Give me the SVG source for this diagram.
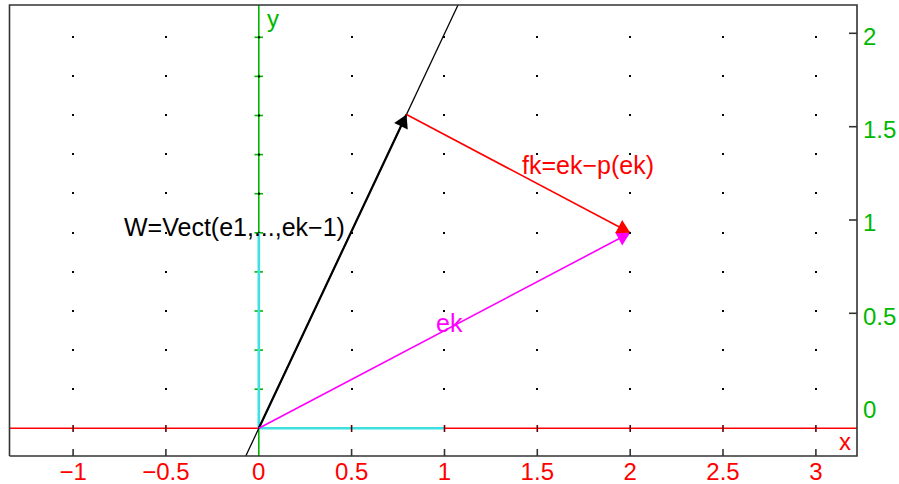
<svg xmlns="http://www.w3.org/2000/svg" width="899" height="484" viewBox="0 0 899 484">
<style>
text{font-family:"Liberation Sans",Arial,sans-serif;font-size:24px}
.lbl{font-size:25px}
.xl{fill:#ff0000;text-anchor:middle}
.yl{fill:#00b800}
.frame{fill:none;stroke:#333;stroke-width:1.6}
.ftick{stroke:#333;stroke-width:1.6}
.dot{fill:#000}
</style>
<defs>
<marker id="ahK" viewBox="-14 -8 15 16" refX="0" refY="0" markerWidth="15" markerHeight="16" markerUnits="userSpaceOnUse" orient="auto"><path d="M0,0 L-13,-7.5 L-13,7.5 Z" fill="#000"/></marker>
<marker id="ahR" viewBox="-14 -8 15 16" refX="0" refY="0" markerWidth="15" markerHeight="16" markerUnits="userSpaceOnUse" orient="auto"><path d="M0,0 L-13,-7.5 L-13,7.5 Z" fill="#ff0000"/></marker>
<marker id="ahM" viewBox="-14 -8 15 16" refX="0" refY="0" markerWidth="15" markerHeight="16" markerUnits="userSpaceOnUse" orient="auto"><path d="M0,0 L-13,-7.5 L-13,7.5 Z" fill="#ff00ff"/></marker>
</defs>

<g id="grid">
<g class="dot">
<rect x="72" y="36" width="2" height="2"/><rect x="165" y="36" width="2" height="2"/><rect x="351" y="36" width="2" height="2"/><rect x="443" y="36" width="2" height="2"/><rect x="536" y="36" width="2" height="2"/><rect x="629" y="36" width="2" height="2"/><rect x="722" y="36" width="2" height="2"/><rect x="815" y="36" width="2" height="2"/>
<rect x="72" y="75" width="2" height="2"/><rect x="165" y="75" width="2" height="2"/><rect x="351" y="75" width="2" height="2"/><rect x="443" y="75" width="2" height="2"/><rect x="536" y="75" width="2" height="2"/><rect x="629" y="75" width="2" height="2"/><rect x="722" y="75" width="2" height="2"/><rect x="815" y="75" width="2" height="2"/>
<rect x="72" y="114" width="2" height="2"/><rect x="165" y="114" width="2" height="2"/><rect x="351" y="114" width="2" height="2"/><rect x="443" y="114" width="2" height="2"/><rect x="536" y="114" width="2" height="2"/><rect x="629" y="114" width="2" height="2"/><rect x="722" y="114" width="2" height="2"/><rect x="815" y="114" width="2" height="2"/>
<rect x="72" y="153" width="2" height="2"/><rect x="165" y="153" width="2" height="2"/><rect x="351" y="153" width="2" height="2"/><rect x="443" y="153" width="2" height="2"/><rect x="536" y="153" width="2" height="2"/><rect x="629" y="153" width="2" height="2"/><rect x="722" y="153" width="2" height="2"/><rect x="815" y="153" width="2" height="2"/>
<rect x="72" y="192" width="2" height="2"/><rect x="165" y="192" width="2" height="2"/><rect x="351" y="192" width="2" height="2"/><rect x="443" y="192" width="2" height="2"/><rect x="536" y="192" width="2" height="2"/><rect x="629" y="192" width="2" height="2"/><rect x="722" y="192" width="2" height="2"/><rect x="815" y="192" width="2" height="2"/>
<rect x="72" y="232" width="2" height="2"/><rect x="165" y="232" width="2" height="2"/><rect x="351" y="232" width="2" height="2"/><rect x="443" y="232" width="2" height="2"/><rect x="536" y="232" width="2" height="2"/><rect x="722" y="232" width="2" height="2"/><rect x="815" y="232" width="2" height="2"/>
<rect x="72" y="271" width="2" height="2"/><rect x="165" y="271" width="2" height="2"/><rect x="351" y="271" width="2" height="2"/><rect x="443" y="271" width="2" height="2"/><rect x="536" y="271" width="2" height="2"/><rect x="629" y="271" width="2" height="2"/><rect x="722" y="271" width="2" height="2"/><rect x="815" y="271" width="2" height="2"/>
<rect x="72" y="310" width="2" height="2"/><rect x="165" y="310" width="2" height="2"/><rect x="351" y="310" width="2" height="2"/><rect x="443" y="310" width="2" height="2"/><rect x="536" y="310" width="2" height="2"/><rect x="629" y="310" width="2" height="2"/><rect x="722" y="310" width="2" height="2"/><rect x="815" y="310" width="2" height="2"/>
<rect x="72" y="349" width="2" height="2"/><rect x="165" y="349" width="2" height="2"/><rect x="351" y="349" width="2" height="2"/><rect x="443" y="349" width="2" height="2"/><rect x="536" y="349" width="2" height="2"/><rect x="629" y="349" width="2" height="2"/><rect x="722" y="349" width="2" height="2"/><rect x="815" y="349" width="2" height="2"/>
<rect x="72" y="388" width="2" height="2"/><rect x="165" y="388" width="2" height="2"/><rect x="351" y="388" width="2" height="2"/><rect x="443" y="388" width="2" height="2"/><rect x="536" y="388" width="2" height="2"/><rect x="629" y="388" width="2" height="2"/><rect x="722" y="388" width="2" height="2"/><rect x="815" y="388" width="2" height="2"/>
</g>
</g>

<g id="axes">
<line x1="9.5" y1="428.3" x2="857" y2="428.3" stroke="#ff0000" stroke-width="1.6"/>
<line x1="258.8" y1="5" x2="258.8" y2="456" stroke="#00b800" stroke-width="1.6"/>
<g stroke="#00b800" stroke-width="1.6">
<line x1="254.5" y1="37.3" x2="263" y2="37.3"/><line x1="254.5" y1="76.4" x2="263" y2="76.4"/><line x1="254.5" y1="115.5" x2="263" y2="115.5"/><line x1="254.5" y1="154.6" x2="263" y2="154.6"/><line x1="254.5" y1="193.7" x2="263" y2="193.7"/><line x1="254.5" y1="232.8" x2="263" y2="232.8"/><line x1="254.5" y1="271.9" x2="263" y2="271.9"/><line x1="254.5" y1="311" x2="263" y2="311"/><line x1="254.5" y1="350.1" x2="263" y2="350.1"/><line x1="254.5" y1="389.2" x2="263" y2="389.2"/>
</g>
<g class="dot">
<rect x="258" y="36.3" width="2" height="2"/><rect x="258" y="75.4" width="2" height="2"/><rect x="258" y="114.5" width="2" height="2"/><rect x="258" y="153.6" width="2" height="2"/><rect x="258" y="192.7" width="2" height="2"/><rect x="258" y="231.8" width="2" height="2"/><rect x="258" y="270.9" width="2" height="2"/><rect x="258" y="310" width="2" height="2"/><rect x="258" y="349.1" width="2" height="2"/><rect x="258" y="388.2" width="2" height="2"/>
</g>
<text class="yl" x="267" y="27">y</text>
<text x="839" y="450" fill="#ff0000">x</text>
</g>

<g id="basis-e">
<line x1="258.8" y1="428.3" x2="258.8" y2="232.8" stroke="#3fe0e0" stroke-width="2.6"/>
<line x1="258.8" y1="428.3" x2="444.5" y2="428.3" stroke="#3fe0e0" stroke-width="2.6"/>
</g>

<g id="xticks" stroke="#600" stroke-width="1.6">
<line x1="73.1" y1="425" x2="73.1" y2="432"/><line x1="165.9" y1="425" x2="165.9" y2="432"/><line x1="351.6" y1="425" x2="351.6" y2="432"/><line x1="444.5" y1="425" x2="444.5" y2="432"/><line x1="537.3" y1="425" x2="537.3" y2="432"/><line x1="630.2" y1="425" x2="630.2" y2="432"/><line x1="723" y1="425" x2="723" y2="432"/><line x1="815.9" y1="425" x2="815.9" y2="432"/>
</g>

<g id="line-W">
<line x1="245.8" y1="456" x2="458" y2="5" stroke="#000" stroke-width="1.3"/>
<text class="lbl" x="124" y="236" fill="#000">W=Vect(e1,...,ek−1)</text>
</g>

<g id="connectors">
<line x1="258.8" y1="428.3" x2="406.5" y2="114.5" stroke="#000" stroke-width="2.2" marker-end="url(#ahK)"/>
<line x1="258.8" y1="428.3" x2="630.2" y2="232.8" stroke="#ff00ff" stroke-width="1.6" marker-end="url(#ahM)"/>
<line x1="406.5" y1="114.5" x2="630.2" y2="232.8" stroke="#ff0000" stroke-width="1.6" marker-end="url(#ahR)"/>
<rect x="629" y="232" width="2" height="2" fill="#000"/>
</g>

<g id="label-fk"><text class="lbl" x="522" y="174" fill="#ff0000">fk=ek−p(ek)</text></g>
<g id="label-ek"><text class="lbl" x="436" y="332" fill="#ff00ff">ek</text></g>

<g id="frame">
<polyline class="frame" points="9.5,456 9.5,5 857,5 857,456 9.5,456"/>
<g class="ftick">
<line x1="73.1" y1="449" x2="73.1" y2="456"/><line x1="165.9" y1="449" x2="165.9" y2="456"/><line x1="351.6" y1="449" x2="351.6" y2="456"/><line x1="444.5" y1="449" x2="444.5" y2="456"/><line x1="537.3" y1="449" x2="537.3" y2="456"/><line x1="630.2" y1="449" x2="630.2" y2="456"/><line x1="723" y1="449" x2="723" y2="456"/><line x1="815.9" y1="449" x2="815.9" y2="456"/>
<line x1="849" y1="33.3" x2="857" y2="33.3"/><line x1="849" y1="126.7" x2="857" y2="126.7"/><line x1="849" y1="220" x2="857" y2="220"/><line x1="849" y1="313.3" x2="857" y2="313.3"/>
</g>
<text class="xl" x="73.1" y="480">−1</text>
<text class="xl" x="165.9" y="480">−0.5</text>
<text class="xl" x="258.8" y="480">0</text>
<text class="xl" x="351.6" y="480">0.5</text>
<text class="xl" x="444.5" y="480">1</text>
<text class="xl" x="537.3" y="480">1.5</text>
<text class="xl" x="630.2" y="480">2</text>
<text class="xl" x="723" y="480">2.5</text>
<text class="xl" x="815.9" y="480">3</text>
<text class="yl" x="863" y="45">2</text>
<text class="yl" x="863" y="138.3">1.5</text>
<text class="yl" x="863" y="230.7">1</text>
<text class="yl" x="863" y="325">0.5</text>
<text class="yl" x="863" y="418">0</text>
</g>
</svg>
